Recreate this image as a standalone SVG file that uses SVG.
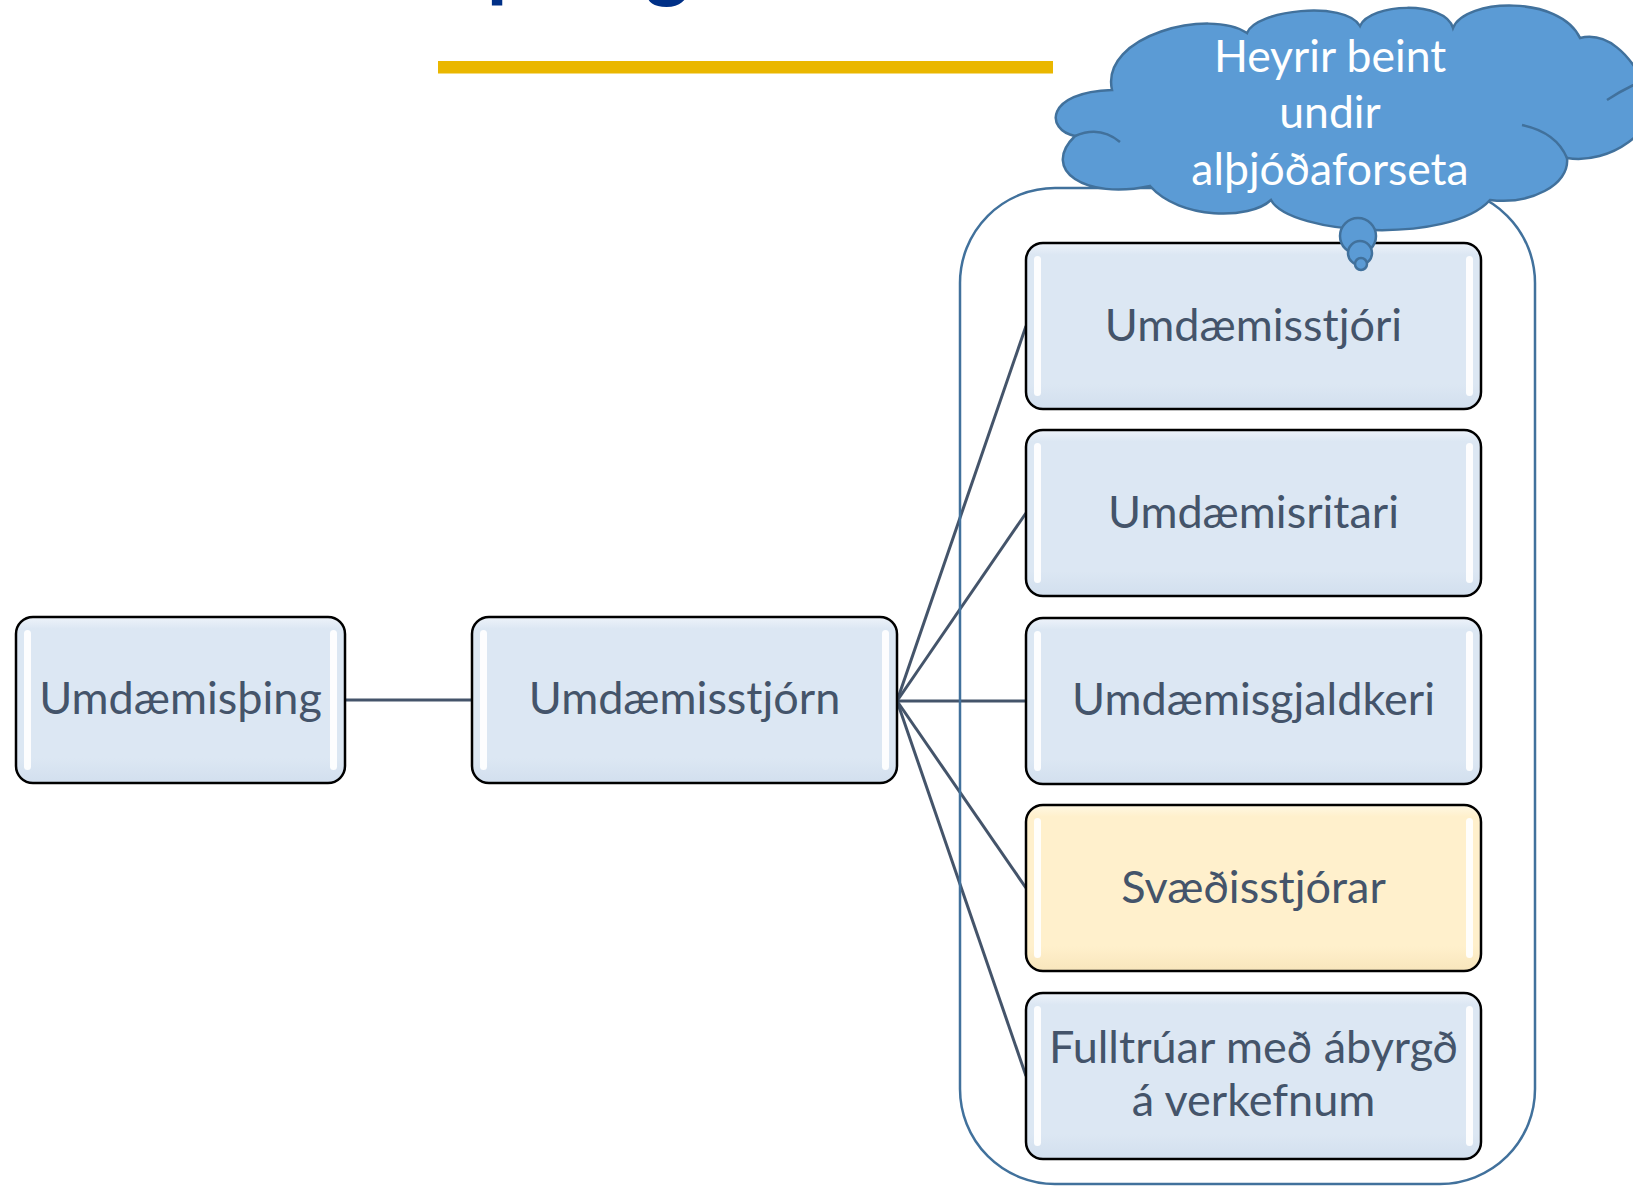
<svg xmlns="http://www.w3.org/2000/svg" width="1633" height="1186" viewBox="0 0 1633 1186">
  <style>
    .box { stroke: #000000; stroke-width: 2.5; }
    .blue { fill: url(#gBlue); }
    .yellow { fill: url(#gYellow); }
    .hl { fill: #FFFFFF; opacity: 0.92; }
    .lbl { font-family: Lato, "Open Sans", "Noto Sans", sans-serif; font-size: 45px; fill: #44546A; text-anchor: middle; }
    .cloudTxt { font-family: Lato, "Open Sans", "Noto Sans", sans-serif; font-size: 44.5px; fill: #FFFFFF; text-anchor: middle; }
    .conn { stroke: #44546A; stroke-width: 3; fill: none; }
    .cloud { fill: #5B9BD5; stroke: #41719C; stroke-width: 2.5; }
    .inner { fill: none; stroke: #41719C; stroke-width: 2.5; }
  </style>
  <defs>
    <linearGradient id="gBlue" x1="0" y1="0" x2="0" y2="1">
      <stop offset="0" stop-color="#EEF3FA"/>
      <stop offset="0.07" stop-color="#DCE7F3"/>
      <stop offset="0.85" stop-color="#DCE7F3"/>
      <stop offset="1" stop-color="#D2DFEE"/>
    </linearGradient>
    <linearGradient id="gYellow" x1="0" y1="0" x2="0" y2="1">
      <stop offset="0" stop-color="#FFF8E4"/>
      <stop offset="0.07" stop-color="#FFF0CC"/>
      <stop offset="0.85" stop-color="#FFF0CC"/>
      <stop offset="1" stop-color="#F8E6BC"/>
    </linearGradient>
  </defs>

  <rect width="1633" height="1186" fill="#FFFFFF"/>

  <!-- Title (mostly above the visible area, as in the reference) -->
  <text x="375" y="-9" font-family="Lato, 'Open Sans', sans-serif" font-weight="700" font-size="84" fill="#003087">Skipulag</text>
  <rect x="438" y="61" width="615" height="12.5" fill="#EAB700"/>

  <!-- Connectors -->
  <g id="connectors">
    <path class="conn" d="M345,700 H472"/>
    <path class="conn" d="M897,701 L1026,326"/>
    <path class="conn" d="M897,701 L1026,513"/>
    <path class="conn" d="M897,701 H1026"/>
    <path class="conn" d="M897,701 L1026,888"/>
    <path class="conn" d="M897,701 L1026,1076"/>
  </g>

  <!-- Container -->
  <rect id="group-frame" x="960" y="188" width="575" height="996" rx="95" ry="95" fill="none" stroke="#41719C" stroke-width="2.5"/>

  <g id="n-umdaemisthing">
    <rect class="box blue" x="16" y="617" width="329" height="166" rx="17"/>
    <rect class="hl" x="24" y="630" width="7" height="140" rx="3.5"/>
    <rect class="hl" x="330" y="630" width="7" height="140" rx="3.5"/>
    <text class="lbl" x="180.5" y="714">Umdæmisþing</text>
  </g>

  <g id="n-umdaemisstjorn">
    <rect class="box blue" x="472" y="617" width="425" height="166" rx="17"/>
    <rect class="hl" x="480" y="630" width="7" height="140" rx="3.5"/>
    <rect class="hl" x="882" y="630" width="7" height="140" rx="3.5"/>
    <text class="lbl" x="684.5" y="714">Umdæmisstjórn</text>
  </g>

  <g id="n-umdaemisstjori">
    <rect class="box blue" x="1026" y="243" width="455" height="166" rx="17"/>
    <rect class="hl" x="1034" y="256" width="7" height="140" rx="3.5"/>
    <rect class="hl" x="1466" y="256" width="7" height="140" rx="3.5"/>
    <text class="lbl" x="1253.5" y="341">Umdæmisstjóri</text>
  </g>

  <g id="n-umdaemisritari">
    <rect class="box blue" x="1026" y="430" width="455" height="166" rx="17"/>
    <rect class="hl" x="1034" y="443" width="7" height="140" rx="3.5"/>
    <rect class="hl" x="1466" y="443" width="7" height="140" rx="3.5"/>
    <text class="lbl" x="1253.5" y="528">Umdæmisritari</text>
  </g>

  <g id="n-umdaemisgjaldkeri">
    <rect class="box blue" x="1026" y="618" width="455" height="166" rx="17"/>
    <rect class="hl" x="1034" y="631" width="7" height="140" rx="3.5"/>
    <rect class="hl" x="1466" y="631" width="7" height="140" rx="3.5"/>
    <text class="lbl" x="1253.5" y="715">Umdæmisgjaldkeri</text>
  </g>

  <g id="n-svaedisstjorar">
    <rect class="box yellow" x="1026" y="805" width="455" height="166" rx="17"/>
    <rect class="hl" x="1034" y="818" width="7" height="140" rx="3.5"/>
    <rect class="hl" x="1466" y="818" width="7" height="140" rx="3.5"/>
    <text class="lbl" x="1253.5" y="903">Svæðisstjórar</text>
  </g>

  <g id="n-fulltruar">
    <rect class="box blue" x="1026" y="993" width="455" height="166" rx="17"/>
    <rect class="hl" x="1034" y="1006" width="7" height="140" rx="3.5"/>
    <rect class="hl" x="1466" y="1006" width="7" height="140" rx="3.5"/>
    <text class="lbl" x="1253.5" y="1063">Fulltrúar með ábyrgð</text>
    <text class="lbl" x="1253.5" y="1116">á verkefnum</text>
  </g>

  <g id="n-cloud">
    <path class="cloud" d="M1075,136 C1045,130 1045,92 1112,90 C1100,35 1210,8 1247,33 C1255,10 1345,0 1360,26 C1370,3 1445,0 1453,28 C1465,-2 1560,-5 1580,38 C1605,32 1630,50 1650,95 C1660,130 1610,165 1567,158 C1570,185 1530,205 1490,200 C1450,245 1290,235 1271,200 C1250,220 1180,220 1150,186 C1085,200 1040,170 1075,136 Z"/>
    <path class="inner" d="M1075,136 Q1100,125 1120,142"/>
    <path class="inner" d="M1522,125 Q1556,132 1567,158"/>
    <path class="inner" d="M1607,100 Q1622,90 1640,82"/>
    <circle class="cloud" cx="1358" cy="236" r="18"/>
    <circle class="cloud" cx="1360" cy="253" r="12"/>
    <circle class="cloud" cx="1361" cy="264" r="6"/>
    <text class="cloudTxt" x="1330" y="72">Heyrir beint</text>
    <text class="cloudTxt" x="1330" y="128">undir</text>
    <text class="cloudTxt" x="1330" y="185">alþjóðaforseta</text>
  </g>
</svg>
